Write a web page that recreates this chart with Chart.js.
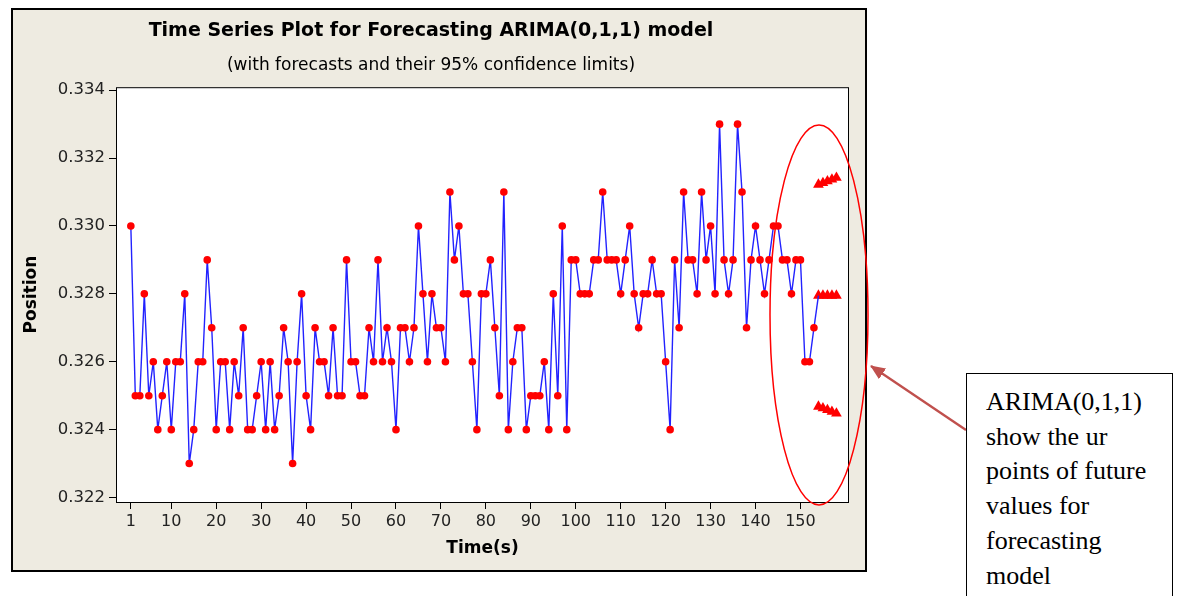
<!DOCTYPE html>
<html>
<head>
<meta charset="utf-8">
<script src="https://cdn.jsdelivr.net/npm/chart.js@4.4.1/dist/chart.umd.min.js"></script>
<style>
  body { margin: 0; width: 1178px; height: 596px; background: #fff; position: relative; overflow: hidden; }
  #frame { position: absolute; left: 11px; top: 8px; width: 852px; height: 560px;
           border: 2px solid #000; background: #eeebe1; }
  #chart { display: block; }
  #overlay { position: absolute; left: 0; top: 0; }
  #note { position: absolute; left: 966px; top: 373px; width: 186px; height: 260px;
          border: 1.5px solid #000; background: #fff; padding: 11px 0 0 19px;
          font-family: "Liberation Serif", "Times New Roman", serif; font-size: 26px;
          line-height: 34.7px; color: #000; }
</style>
</head>
<body>
<div id="frame"><canvas id="chart" width="852" height="560"></canvas></div>
<svg id="overlay" width="1178" height="596">
  <defs>
    <marker id="head" markerWidth="15" markerHeight="13" refX="14" refY="6.5" orient="auto" markerUnits="userSpaceOnUse" viewBox="0 0 15 13">
      <path d="M0,0 L15,6.5 L0,13 z" fill="#c0504d"/>
    </marker>
  </defs>
  <ellipse cx="819" cy="315" rx="49" ry="190" fill="none" stroke="#ff0000" stroke-width="1.5"/>
  <line x1="966" y1="430" x2="871" y2="366" stroke="#c0504d" stroke-width="2.4" marker-end="url(#head)"/>
</svg>
<div id="note">ARIMA(0,1,1)<br>show the ur<br>points of future<br>values for<br>forecasting<br>model</div>
<script>
// observed series, time 1..153
var positions = [
  0.330, 0.325, 0.325, 0.328, 0.325, 0.326, 0.324, 0.325, 0.326, 0.324,
  0.326, 0.326, 0.328, 0.323, 0.324, 0.326, 0.326, 0.329, 0.327, 0.324,
  0.326, 0.326, 0.324, 0.326, 0.325, 0.327, 0.324, 0.324, 0.325, 0.326,
  0.324, 0.326, 0.324, 0.325, 0.327, 0.326, 0.323, 0.326, 0.328, 0.325,
  0.324, 0.327, 0.326, 0.326, 0.325, 0.327, 0.325, 0.325, 0.329, 0.326,
  0.326, 0.325, 0.325, 0.327, 0.326, 0.329, 0.326, 0.327, 0.326, 0.324,
  0.327, 0.327, 0.326, 0.327, 0.330, 0.328, 0.326, 0.328, 0.327, 0.327,
  0.326, 0.331, 0.329, 0.330, 0.328, 0.328, 0.326, 0.324, 0.328, 0.328,
  0.329, 0.327, 0.325, 0.331, 0.324, 0.326, 0.327, 0.327, 0.324, 0.325,
  0.325, 0.325, 0.326, 0.324, 0.328, 0.325, 0.330, 0.324, 0.329, 0.329,
  0.328, 0.328, 0.328, 0.329, 0.329, 0.331, 0.329, 0.329, 0.329, 0.328,
  0.329, 0.330, 0.328, 0.327, 0.328, 0.328, 0.329, 0.328, 0.328, 0.326,
  0.324, 0.329, 0.327, 0.331, 0.329, 0.329, 0.328, 0.331, 0.329, 0.330,
  0.328, 0.333, 0.329, 0.328, 0.329, 0.333, 0.331, 0.327, 0.329, 0.330,
  0.329, 0.328, 0.329, 0.330, 0.330, 0.329, 0.329, 0.328, 0.329, 0.329,
  0.326, 0.326, 0.327
];

// forecasts and 95% limits
var forecastTime = [154, 155, 156, 157, 158];
var forecastValues = [0.32795, 0.32795, 0.32795, 0.32795, 0.32795];
var upperLimits = [0.33122, 0.33127, 0.33132, 0.33137, 0.33142];
var lowerLimits = [0.32468, 0.32463, 0.32458, 0.32453, 0.32448];

var xTickValues = [1, 10, 20, 30, 40, 50, 60, 70, 80, 90, 100, 110, 120, 130, 140, 150];
var yTickValues = [0.322, 0.324, 0.326, 0.328, 0.330, 0.332, 0.334];

var FONT = '"DejaVu Sans", Tahoma, sans-serif';

var observed = positions.map(function (v, i) { return { x: i + 1, y: v }; });
function toPoints(ys) {
  return ys.map(function (v, i) { return { x: forecastTime[i], y: v }; });
}
var link = [
  { x: positions.length, y: positions[positions.length - 1] },
  { x: forecastTime[0], y: forecastValues[0] }
];

var plotFrame = {
  id: 'plotFrame',
  beforeDraw: function (chart) {
    var a = chart.chartArea, ctx = chart.ctx;
    ctx.save();
    ctx.fillStyle = '#ffffff';
    ctx.fillRect(a.left, a.top, a.right - a.left, a.bottom - a.top);
    ctx.restore();
  },
  afterDatasetsDraw: function (chart) {
    var a = chart.chartArea, ctx = chart.ctx;
    ctx.save();
    ctx.strokeStyle = '#000';
    ctx.lineWidth = 1;
    ctx.strokeRect(a.left + 0.5, a.top + 0.5, a.right - a.left - 1, a.bottom - a.top);
    ctx.restore();
  }
};

function triangleSet(ys) {
  return {
    data: toPoints(ys),
    borderColor: '#ff0000',
    borderWidth: 1,
    pointStyle: 'triangle',
    pointRadius: 6.2,
    pointBackgroundColor: '#ff0000',
    pointBorderColor: '#ff0000',
    pointBorderWidth: 0
  };
}

new Chart(document.getElementById('chart'), {
  type: 'line',
  data: {
    datasets: [
      {
        data: observed,
        borderColor: '#2222ff',
        borderWidth: 1.4,
        pointRadius: 3.8,
        pointBackgroundColor: '#ff0000',
        pointBorderColor: '#ff0000',
        pointBorderWidth: 0,
        tension: 0
      },
      {
        data: link,
        borderColor: '#2222ff',
        borderWidth: 1.4,
        pointRadius: 0
      },
      triangleSet(forecastValues),
      triangleSet(upperLimits),
      triangleSet(lowerLimits)
    ]
  },
  options: {
    responsive: false,
    animation: false,
    layout: { padding: { top: 0, right: 16, bottom: 0, left: 0 } },
    plugins: {
      legend: { display: false },
      tooltip: { enabled: false },
      title: {
        display: true,
        text: 'Time Series Plot for Forecasting ARIMA(0,1,1) model',
        color: '#000',
        font: { family: FONT, size: 19, weight: 'bold', lineHeight: 1.2 },
        padding: { top: 10, bottom: 0 }
      },
      subtitle: {
        display: true,
        text: '(with forecasts and their 95% confidence limits)',
        color: '#000',
        font: { family: FONT, size: 17, lineHeight: 1.2 },
        padding: { top: 13, bottom: 11 }
      }
    },
    scales: {
      x: {
        type: 'linear',
        min: -2.3,
        max: 160.8,
        afterBuildTicks: function (scale) {
          scale.ticks = xTickValues.map(function (v) { return { value: v }; });
        },
        afterFit: function (scale) { scale.height = 68; },
        border: { display: false },
        grid: { drawOnChartArea: false, drawTicks: true, tickLength: 7, color: '#000' },
        ticks: {
          autoSkip: false, maxRotation: 0, padding: 3, color: '#222',
          font: { family: FONT, size: 16 },
          callback: function (v) { return String(v); }
        },
        title: {
          display: true, text: 'Time(s)', color: '#000',
          font: { family: FONT, size: 17, weight: 'bold', lineHeight: 1.2 },
          padding: { top: 0, bottom: 11 }
        }
      },
      y: {
        min: 0.321868,
        max: 0.334088,
        afterBuildTicks: function (scale) {
          scale.ticks = yTickValues.map(function (v) { return { value: v }; });
        },
        afterFit: function (scale) { scale.width = 103; },
        border: { display: false },
        grid: { drawOnChartArea: false, drawTicks: true, tickLength: 7, color: '#000' },
        ticks: {
          padding: 4, color: '#222',
          font: { family: FONT, size: 16.5 },
          callback: function (v) { return v.toFixed(3); }
        },
        title: {
          display: true, text: 'Position', color: '#000',
          font: { family: FONT, size: 17, weight: 'bold', lineHeight: 1.2 },
          padding: { top: 8, bottom: 0 }
        }
      }
    }
  },
  plugins: [plotFrame]
});
</script>
</body>
</html>
